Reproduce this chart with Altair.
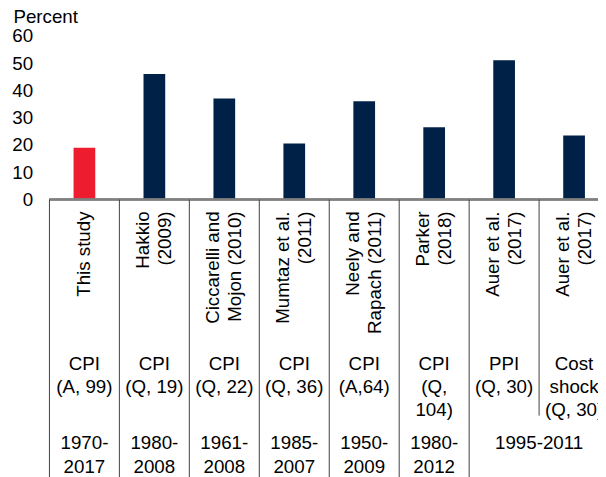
import altair as alt
import pandas as pd

# ---- data ----
studies = ["This study", "Hakkio\n(2009)", "Ciccarelli and\nMojon  (2010)", "Mumtaz et al.\n(2011)",
           "Neely and\nRapach (2011)", "Parker\n(2018)", "Auer et al.\n(2017)", "Auer et al.\n(2017)"]
shares = [19, 46, 37, 20.5, 36, 26.5, 51, 23.5]
measures = ["CPI\n(A, 99)", "CPI\n(Q, 19)", "CPI\n(Q, 22)", "CPI\n(Q, 36)", "CPI\n(A,64)",
            "CPI\n(Q,\n104)", "PPI\n(Q, 30)", "Cost\nshock\n(Q, 30)"]
periods = ["1970-\n2017", "1980-\n2008", "1961-\n2008", "1985-\n2007", "1950-\n2009", "1980-\n2012", "1995-2011"]
period_spans = [1, 1, 1, 1, 1, 1, 2]
y_ticks = [0, 10, 20, 30, 40, 50, 60]

# ---- layout ----
FONT = "Liberation Sans"
FS = 19
W, H = 556, 444          # plot area
COL = 70.9               # column width in px
Y_TOP = 60
ZERO_PX = 166            # pixel of y=0 within plot
NAME_LH = 22
ppu = ZERO_PX / Y_TOP
y_min = -(H - ZERO_PX) / ppu

xscale = alt.Scale(domain=[0, W / COL], nice=False, zero=False, padding=0)
yscale = alt.Scale(domain=[y_min, Y_TOP], nice=False, zero=False, padding=0)

n = len(studies)
main = pd.DataFrame({
    "pos": [i + 0.5 for i in range(n)],
    "study": studies,
    "share": shares,
    "measure": measures,
    "kind": ["This study"] + ["Other"] * (n - 1),
})
# centre multi-line rotated labels on their column
main["name_pos"] = [p - (s.count("\n")) * NAME_LH / 2 / COL for p, s in zip(main["pos"], studies)]

starts = []
s = 0
for sp in period_spans:
    starts.append(s)
    s += sp
per = pd.DataFrame({
    "pos": [st + sp / 2 for st, sp in zip(starts, period_spans)],
    "period": periods,
})
full_edges = pd.DataFrame({"pos": starts + [s]})
short_edges = pd.DataFrame({"pos": [i for i in range(n) if i not in starts]})

X = alt.X("pos:Q", scale=xscale, axis=None)

bars = alt.Chart(main).mark_bar(size=22).encode(
    x=X,
    y=alt.Y("share:Q", scale=yscale, axis=alt.Axis(
        values=y_ticks, grid=False, domain=False, ticks=False, tickSize=0,
        labelPadding=17, labelFontSize=FS, labelFont=FONT, labelColor="black",
        title="Percent", titleAngle=0, titleAlign="left", titleBaseline="alphabetic",
        titleX=-37, titleY=-13, titleFontSize=FS, titleFont=FONT,
        titleFontWeight="normal", titleColor="black")),
    color=alt.Color("kind:N", scale=alt.Scale(domain=["This study", "Other"],
                                              range=["#ED1C2E", "#002147"]), legend=None),
)

base_line = alt.Chart(main).mark_rule(color="#808080", strokeWidth=1.5).encode(
    x=alt.value(0), x2=alt.value(W), y=alt.value(ZERO_PX))

vlines = alt.Chart(full_edges).mark_rule(color="#404040", strokeWidth=1).encode(
    x=X, y=alt.value(ZERO_PX), y2=alt.value(H + 5))
vshort = alt.Chart(short_edges).mark_rule(color="#404040", strokeWidth=1).encode(
    x=X, y=alt.value(ZERO_PX), y2=alt.value(385))

names = alt.Chart(main).mark_text(
    angle=270, align="right", baseline="middle", lineBreak="\n", lineHeight=NAME_LH,
    font=FONT, fontSize=FS, color="black", clip=True).encode(
    x=alt.X("name_pos:Q", scale=xscale, axis=None), y=alt.value(178), text="study:N")

meas = alt.Chart(main).mark_text(
    align="center", baseline="top", lineBreak="\n", lineHeight=23.5,
    font=FONT, fontSize=FS, color="black", clip=True).encode(
    x=X, y=alt.value(323.5), text="measure:N")

pers = alt.Chart(per).mark_text(
    align="center", baseline="top", lineBreak="\n", lineHeight=25,
    font=FONT, fontSize=FS, color="black", clip=True).encode(
    x=X, y=alt.value(403.5), text="period:N")

chart = alt.layer(bars, base_line, vlines, vshort, names, meas, pers).properties(
    width=W, height=H,
    autosize=alt.AutoSizeParams(type="none"),
    padding={"left": 42, "top": 25, "right": 0, "bottom": 0},
).configure_view(stroke=None)

chart.save("out.html", embed_options={"renderer": "svg", "actions": False})
